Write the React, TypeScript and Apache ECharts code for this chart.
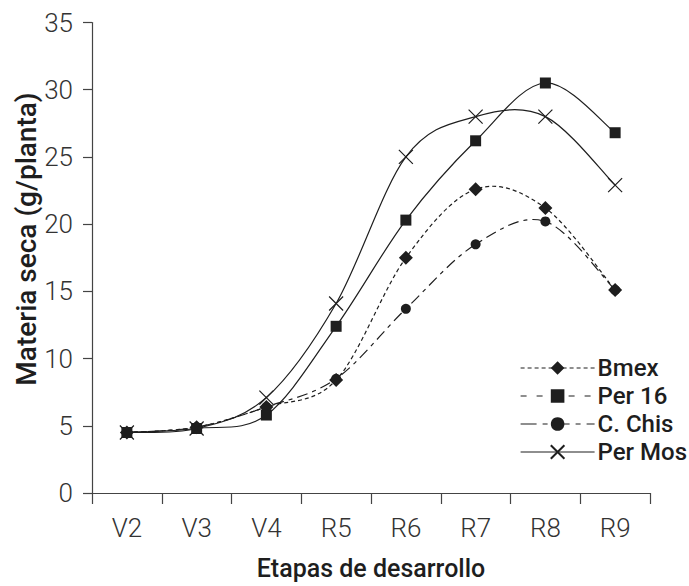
import React, { useEffect, useRef } from "react";
import * as echarts from "echarts";

const categories = ["V2", "V3", "V4", "R5", "R6", "R7", "R8", "R9"];
const yTicks = [0, 5, 10, 15, 20, 25, 30, 35];
const bmex = [4.5, 4.9, 6.4, 8.4, 17.5, 22.6, 21.2, 15.1];
const per16 = [4.5, 4.8, 5.8, 12.4, 20.3, 26.2, 30.5, 26.8];
const cChis = [4.5, 4.9, 6.4, 8.5, 13.7, 18.5, 20.2, 15.1];
const perMos = [4.5, 4.8, 7.1, 14.1, 25.0, 28.0, 28.0, 22.9];
const seriesNames = ["Bmex", "Per 16", "C. Chis", "Per Mos"];

const INK = "#1e1e1e";
const AXIS = "#444";
const FONT = "Roboto";
const X_PATH = "path://M0,0L10,10M10,0L0,10";

const DASH_BMEX = [4, 3];
const DASH_PER16_LEGEND = [6, 10];
const DASH_CCHIS = [11, 5, 4, 5];
const DASH_CCHIS_LEGEND = [16, 6, 5, 6];

// smooth curve through the points (Catmull-Rom as cubic Bezier), coordinates from the axes
function smoothCurve(values: number[], dash: number[] | null) {
  return {
    type: "custom",
    silent: true,
    z: 1,
    data: values.map((v, i) => [i, v]),
    renderItem: (params: any, api: any) => {
      if (params.dataIndex !== 0) return null;
      const pts = values.map((v, i) => api.coord([i, v]));
      const n = pts.length;
      let d = `M${pts[0][0]},${pts[0][1]}`;
      for (let i = 0; i < n - 1; i++) {
        const p0 = pts[Math.max(i - 1, 0)];
        const p1 = pts[i];
        const p2 = pts[i + 1];
        const p3 = pts[Math.min(i + 2, n - 1)];
        const c1x = p1[0] + (p2[0] - p0[0]) / 6;
        const c1y = p1[1] + (p2[1] - p0[1]) / 6;
        const c2x = p2[0] - (p3[0] - p1[0]) / 6;
        const c2y = p2[1] - (p3[1] - p1[1]) / 6;
        d += ` C${c1x},${c1y} ${c2x},${c2y} ${p2[0]},${p2[1]}`;
      }
      return {
        type: "path",
        shape: { pathData: d },
        style: { fill: "none", stroke: INK, lineWidth: 1.2, lineDash: dash || undefined },
      };
    },
  };
}

export default function App() {
  const ref = useRef<HTMLDivElement>(null);
  useEffect(() => {
    if (!ref.current) return;
    const chart = echarts.init(ref.current, undefined, { renderer: "svg" });
    const hiddenLine = { width: 1.2, color: INK, opacity: 0 };
    const legendLine = (type: any) => ({ type, width: 1.2, color: INK, opacity: 1 });
    const option: any = {
      animation: false,
      backgroundColor: "#fff",
      grid: { left: 92, right: 39, top: 22.5, bottom: 88 },
      xAxis: {
        type: "category",
        data: categories,
        boundaryGap: true,
        name: "Etapas de desarrollo",
        nameLocation: "middle",
        nameGap: 63,
        nameTextStyle: { fontFamily: FONT, fontSize: 25, fontWeight: 500, color: INK },
        axisLine: { lineStyle: { color: AXIS, width: 1.2 } },
        axisTick: { show: true, length: 11, alignWithLabel: false, lineStyle: { color: AXIS, width: 1.2 } },
        axisLabel: { fontFamily: FONT, fontSize: 26, fontWeight: 300, color: "#333", margin: 22 },
        splitLine: { show: false },
      },
      yAxis: {
        type: "value",
        min: yTicks[0],
        max: yTicks[yTicks.length - 1],
        interval: 5,
        axisLine: { show: true, lineStyle: { color: AXIS, width: 1.2 } },
        axisTick: { show: true, length: 9, lineStyle: { color: AXIS, width: 1.2 } },
        axisLabel: { fontFamily: FONT, fontSize: 26, fontWeight: 300, color: "#333", margin: 19 },
        splitLine: { show: false },
      },
      legend: {
        orient: "vertical",
        left: 515,
        top: 351,
        itemWidth: 74,
        itemHeight: 17,
        itemGap: 4,
        textStyle: { fontFamily: FONT, fontSize: 24, fontWeight: 500, color: INK, padding: [0, 0, 0, -2] },
        data: [
          { name: seriesNames[0], lineStyle: legendLine(DASH_BMEX) },
          { name: seriesNames[1], lineStyle: legendLine(DASH_PER16_LEGEND) },
          { name: seriesNames[2], lineStyle: legendLine(DASH_CCHIS_LEGEND) },
          { name: seriesNames[3], lineStyle: legendLine("solid") },
        ],
      },
      graphic: [
        {
          type: "text",
          x: 26,
          y: 239,
          rotation: Math.PI / 2,
          style: {
            text: "Materia seca (g/planta)",
            fontFamily: FONT,
            fontSize: 28,
            fontWeight: 500,
            fill: INK,
            align: "center",
            verticalAlign: "middle",
          },
        },
      ],
      series: [
        smoothCurve(bmex, DASH_BMEX),
        smoothCurve(per16, null),
        smoothCurve(cChis, DASH_CCHIS),
        smoothCurve(perMos, null),
        {
          name: seriesNames[0],
          type: "line",
          data: bmex,
          symbol: "diamond",
          symbolSize: 14,
          lineStyle: hiddenLine,
          itemStyle: { color: INK },
          z: 3,
        },
        {
          name: seriesNames[1],
          type: "line",
          data: per16,
          symbol: "rect",
          symbolSize: 11,
          lineStyle: hiddenLine,
          itemStyle: { color: INK },
          z: 4,
        },
        {
          name: seriesNames[2],
          type: "line",
          data: cChis,
          symbol: "circle",
          symbolSize: 10,
          lineStyle: hiddenLine,
          itemStyle: { color: INK },
          z: 2,
        },
        {
          name: seriesNames[3],
          type: "line",
          data: perMos,
          symbol: X_PATH,
          symbolSize: 14,
          lineStyle: hiddenLine,
          itemStyle: { color: "transparent", borderColor: INK, borderWidth: 1.2 },
          z: 5,
        },
      ],
    };
    chart.setOption(option);
    return () => chart.dispose();
  }, []);
  return <div ref={ref} style={{ width: 689, height: 586, position: "absolute", left: 0, top: 0 }} />;
}
